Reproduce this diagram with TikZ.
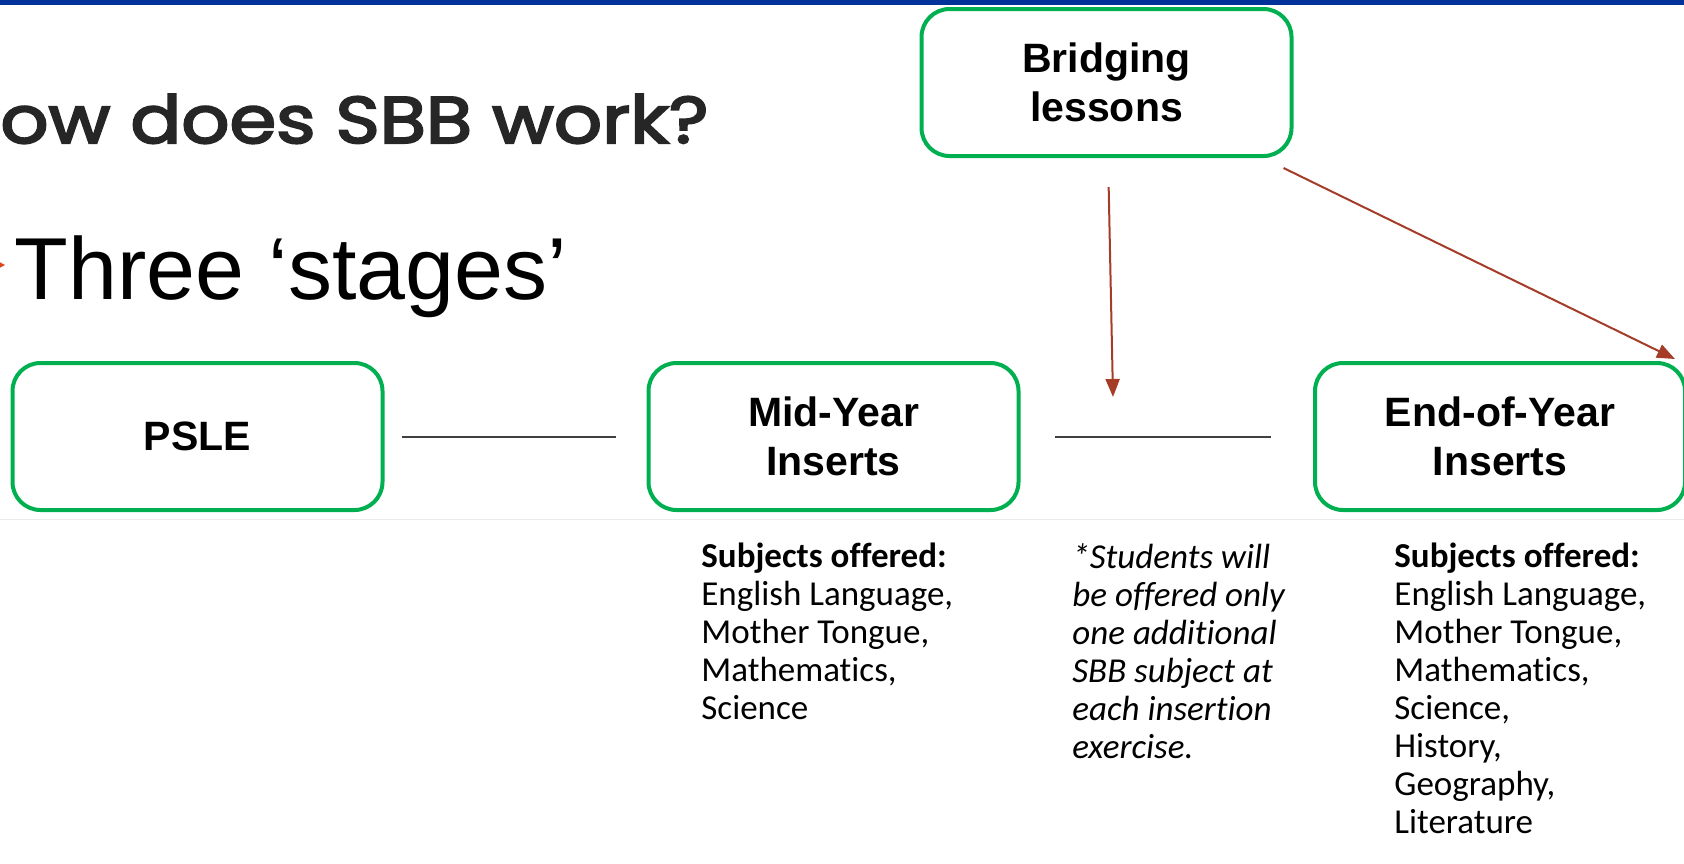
\documentclass[tikz,border=0pt]{standalone}
\usepackage{fontspec}
\setmainfont{Carlito}[Ligatures=NoCommon]
\newfontfamily\arialfont{Liberation Sans}
\newfontfamily\gothicfont{Poppins}[FakeBold=3]
\usetikzlibrary{arrows.meta}
\definecolor{boxgreen}{RGB}{0,176,80}
\definecolor{arrowred}{RGB}{165,60,40}
\definecolor{barblue}{RGB}{0,51,153}
\definecolor{bulletred}{RGB}{224,70,30}
\begin{document}
\begin{tikzpicture}[x=0.5pt,y=-0.5pt,
    stage/.style={draw=boxgreen, line width=2pt, rounded corners=14pt, minimum width=185pt, minimum height=73.5pt, align=center, font=\arialfont\bfseries\fontsize{20.5}{24.5}\selectfont},
    note/.style={anchor=north west, inner sep=0pt, align=left, font=\fontsize{17.5}{19}\selectfont},
    notei/.style={note, font=\fontsize{17.5}{19}\selectfont\itshape},
    plain/.style={draw=black!75, line width=1pt},
    arr/.style={draw=arrowred, line width=1pt, -{Triangle[length=9pt,width=7pt]}}]
    \useasboundingbox (0,0) rectangle (1684,863);
    \clip (0,0) rectangle (1684,863);
    \fill[barblue] (0,0) rectangle (1684,5);
    \draw[black!8, line width=0.5pt] (0,519) -- (1684,519);
    \node[anchor=base west, inner sep=0pt, text=black!85, font=\gothicfont\fontsize{33}{40}\selectfont] (title) at (0,143) {\resizebox{354pt}{\height}{ow does SBB work?}};
    \fill[bulletred] (-8,258) -- (5,265) -- (-8,272) -- cycle;
    \node[anchor=base west, inner sep=0pt, font=\arialfont\fontsize{44}{53}\selectfont] (stages) at (14,299) {Three ‘stages’};
    \node[stage] (A1_0) at (197.5,436.5) {PSLE};
    \node[stage] (A1_1) at (833.5,436.5) {Mid-Year\\Inserts};
    \node[stage] (A1_2) at (1500,436.5) {End-of-Year\\Inserts};
    \node[stage] (A0_1) at (1106.5,82.5) {Bridging\\lessons};
    \coordinate (C1) at (1113,397);
    \path (A1_0) edge [plain, shorten <=8.5pt, shorten >=15.5pt] (A1_1);
    \path (A1_1) edge [plain, shorten <=17pt, shorten >=21pt] (A1_2);
    \path (A0_1) edge [arr, shorten <=14.5pt] (C1);
    \path ([xshift=-5pt,yshift=-5pt]A0_1.south east) edge [arr] ([xshift=-6pt,yshift=1pt]A1_2.north east);
    \node[note] (S1) at (701,543) {\textbf{Subjects offered:}\\English Language,\\Mother Tongue,\\Mathematics,\\Science};
    \node[notei] (S2) at (1072,543) {*Students will\\be offered only\\one additional\\SBB subject at\\each insertion\\exercise.};
    \node[note] (S3) at (1394,543) {\textbf{Subjects offered:}\\English Language,\\Mother Tongue,\\Mathematics,\\Science,\\History,\\Geography,\\Literature};
\end{tikzpicture}
\end{document}
